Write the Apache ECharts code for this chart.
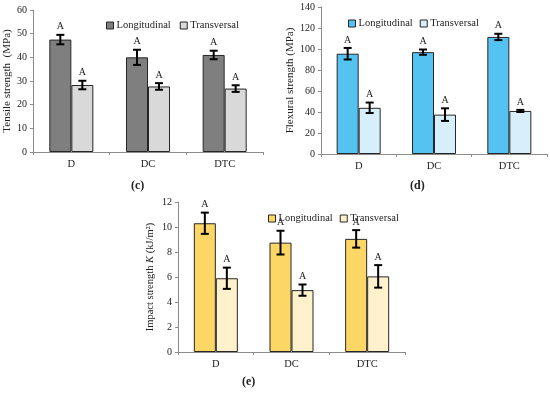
<!DOCTYPE html>
<html><head><meta charset="utf-8">
<script src="https://cdn.jsdelivr.net/npm/echarts@6/dist/echarts.min.js"></script>
<style>html,body{margin:0;padding:0;background:#fff}#c{width:550px;height:393px}</style>
</head><body><div id="c"></div>
<script>
const categories = ['D', 'DC', 'DTC'];
const seriesNames = ['Longitudinal', 'Transversal'];
// (c) Tensile strength
const tensileLong = [47.5, 40.0, 41.0];
const tensileLongErr = [2.0, 3.2, 1.8];
const tensileTrans = [28.3, 27.7, 26.8];
const tensileTransErr = [1.8, 1.4, 1.4];
const tensileTicks = { min: 0, max: 60, interval: 10 };
// (d) Flexural strength
const flexLong = [95.5, 97.0, 111.5];
const flexLongErr = [5.5, 2.5, 3.0];
const flexTrans = [44.0, 37.5, 41.0];
const flexTransErr = [5.0, 6.0, 1.0];
const flexTicks = { min: 0, max: 140, interval: 20 };
// (e) Impact strength
const impactLong = [10.3, 8.75, 9.05];
const impactLongErr = [0.85, 0.95, 0.7];
const impactTrans = [5.9, 4.95, 6.05];
const impactTransErr = [0.85, 0.45, 0.9];
const impactTicks = { min: 0, max: 12, interval: 2 };
const sigLetters = ['A', 'A', 'A'];

const FONT = '"Liberation Serif", "DejaVu Serif", serif';
const BARW = 22;

const panels = [
  { label: '(c)', labelPos: [139, 187], grid: { left: 33, top: 10, width: 230, height: 142 },
    yName: 'Tensile strength  (MPa)', nameGap: 19, nameSize: 11, ticks: tensileTicks,
    long: tensileLong, longErr: tensileLongErr, trans: tensileTrans, transErr: tensileTransErr,
    colors: ['#7f7f7f', '#d9d9d9'], legend: { left: 101, top: 15, gap: 9 } },
  { label: '(d)', labelPos: [418, 187], grid: { left: 321, top: 7, width: 226, height: 147 },
    yName: 'Flexural strength (MPa)', nameGap: 23, nameSize: 11, ticks: flexTicks,
    long: flexLong, longErr: flexLongErr, trans: flexTrans, transErr: flexTransErr,
    colors: ['#55c3f2', '#d6effb'], legend: { left: 343, top: 13, gap: 7 } },
  { label: '(e)', labelPos: [250, 383], grid: { left: 178, top: 202, width: 227, height: 150 },
    yName: 'Impact strength {i|K} (kJ/m²)', nameGap: 22, nameSize: 10.5, ticks: impactTicks,
    long: impactLong, longErr: impactLongErr, trans: impactTrans, transErr: impactTransErr,
    colors: ['#fdd765', '#fff1cb'], legend: { left: 263, top: 208, gap: 7 } }
];

const option = { animation: false, grid: [], xAxis: [], yAxis: [], series: [], legend: [], graphic: [] };

function errSeries(gi, name, vals, errs, offset) {
  const data = vals.map((v, i) => [i, v, errs[i], sigLetters[i]]);
  return {
    type: 'custom', name: name, xAxisIndex: gi, yAxisIndex: gi, z: 10,
    data: data,
    renderItem: function (params, api) {
      const i = api.value(0), v = api.value(1), e = api.value(2);
      const top = api.coord([i, v + e]);
      const bot = api.coord([i, v - e]);
      const x = top[0] + offset;
      const cw = 4;
      return { type: 'group', children: [
        { type: 'line', shape: { x1: x, y1: top[1], x2: x, y2: bot[1] }, style: { stroke: '#000', lineWidth: 2 } },
        { type: 'line', shape: { x1: x - cw, y1: top[1], x2: x + cw, y2: top[1] }, style: { stroke: '#000', lineWidth: 2 } },
        { type: 'line', shape: { x1: x - cw, y1: bot[1], x2: x + cw, y2: bot[1] }, style: { stroke: '#000', lineWidth: 2 } },
        { type: 'text', x: x, y: top[1] - 3, style: { text: data[params.dataIndex][3], fill: '#222', font: '10px ' + FONT, textAlign: 'center', textVerticalAlign: 'bottom' } }
      ] };
    }
  };
}

panels.forEach((p, gi) => {
  option.grid.push(p.grid);
  option.xAxis.push({
    type: 'category', gridIndex: gi, data: categories,
    axisLine: { lineStyle: { color: '#8c8c8c', width: 1 } },
    axisTick: { show: true, length: 3, lineStyle: { color: '#8c8c8c' } },
    axisLabel: { color: '#222', fontFamily: FONT, fontSize: 10.5, margin: 7 }
  });
  option.yAxis.push({
    type: 'value', gridIndex: gi, min: p.ticks.min, max: p.ticks.max, interval: p.ticks.interval,
    name: p.yName, nameLocation: 'middle', nameGap: p.nameGap,
    nameTextStyle: { color: '#222', fontFamily: FONT, fontSize: p.nameSize, rich: { i: { fontStyle: 'italic', fontFamily: FONT, fontSize: p.nameSize, color: '#222' } } },
    axisLine: { show: true, lineStyle: { color: '#8c8c8c', width: 1 } },
    axisTick: { show: true, length: 3, lineStyle: { color: '#8c8c8c' } },
    splitLine: { show: false },
    axisLabel: { color: '#222', fontFamily: FONT, fontSize: 10, margin: 6 }
  });
  const vals = [p.long, p.trans];
  seriesNames.forEach((n, k) => {
    option.series.push({
      type: 'bar', name: n, xAxisIndex: gi, yAxisIndex: gi, data: vals[k],
      barWidth: BARW, barGap: '0%',
      itemStyle: { color: p.colors[k], borderColor: '#262626', borderWidth: 1 }
    });
  });
  option.series.push(errSeries(gi, 'errL' + gi, p.long, p.longErr, -BARW / 2));
  option.series.push(errSeries(gi, 'errT' + gi, p.trans, p.transErr, BARW / 2));
  option.legend.push({
    left: p.legend.left, top: p.legend.top, itemWidth: 7, itemHeight: 7, itemGap: p.legend.gap,
    selectedMode: false, icon: 'rect',
    textStyle: { fontFamily: FONT, fontSize: 10.5, color: '#222', padding: [0, 0, 0, -2] },
    data: seriesNames.map((n, k) => ({ name: n, itemStyle: { color: p.colors[k], borderColor: '#262626', borderWidth: 1 } }))
  });
  option.graphic.push({
    type: 'text', left: p.labelPos[0] - 8, top: p.labelPos[1] - 7,
    style: { text: p.label, font: 'bold 12px ' + FONT, fill: '#222' }
  });
});

const chart = echarts.init(document.getElementById('c'));
chart.setOption(option);
</script></body></html>
